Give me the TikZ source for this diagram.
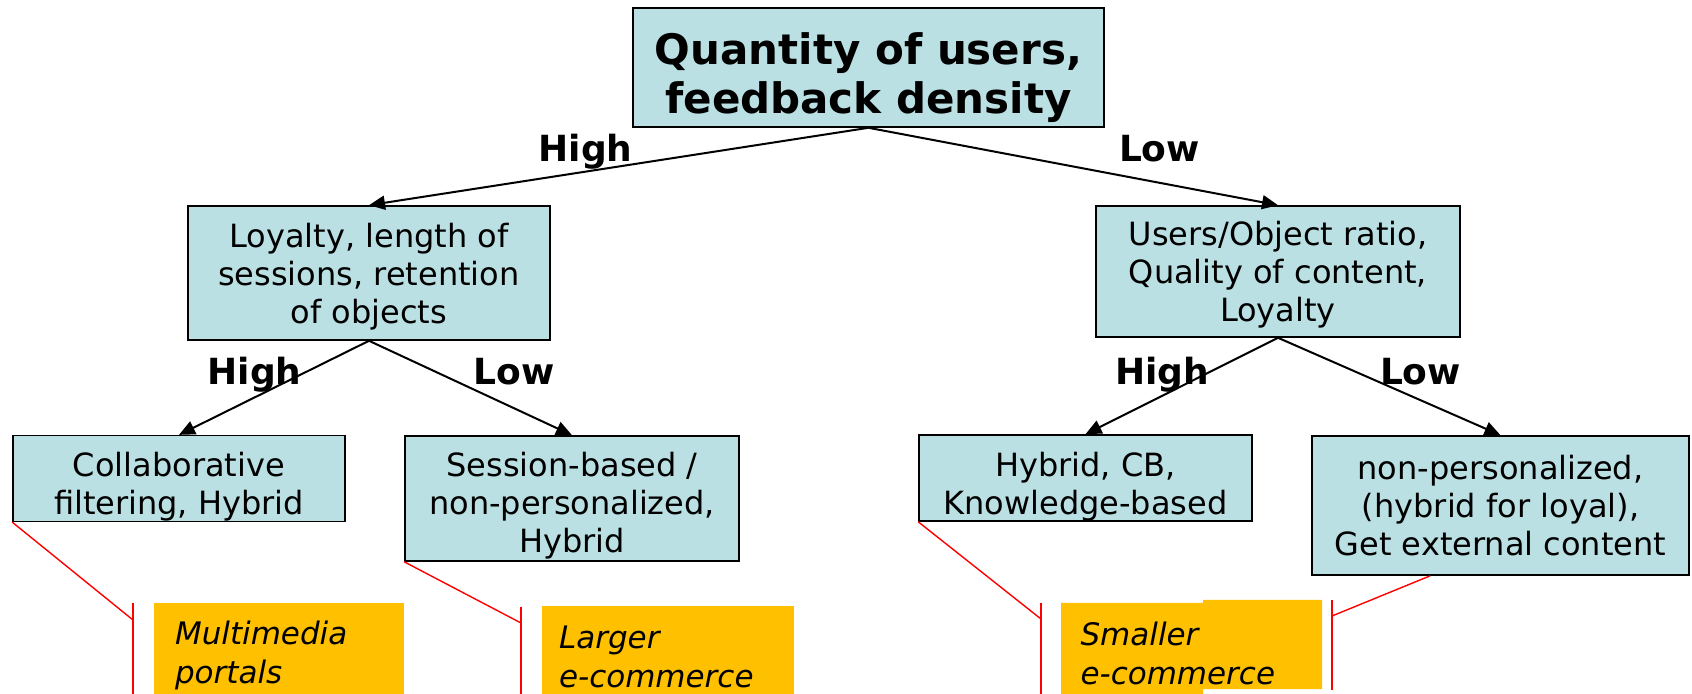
\documentclass[tikz,border=0pt]{standalone}
\usepackage{fontspec}
\setmainfont{DejaVu Sans}
\usetikzlibrary{arrows.meta,calc}
\definecolor{boxfill}{RGB}{186,224,227}
\definecolor{gold}{RGB}{255,192,0}
\newcommand\pushdown[1]{\rule{0pt}{#1}}
\tikzset{
  box/.style={draw=black, line width=0.8pt, fill=boxfill, inner sep=0pt, align=center,
              font=\fontsize{16}{19}\selectfont},
  topbox/.style={box, font=\fontsize{21}{24.3}\selectfont\bfseries},
  lbl/.style={font=\fontsize{18}{20}\selectfont\bfseries, inner sep=0pt, text height=13pt, text depth=0pt},
  arr/.style={line width=1pt, -{Triangle[length=8pt,width=7pt]}},
  note/.style={fill=gold, inner sep=0pt, align=left, font=\fontsize{15.5}{19.5}\selectfont\itshape},
  redline/.style={red, line width=0.7pt},
}
\begin{document}
\begin{tikzpicture}[x=0.5pt,y=-0.5pt]
\useasboundingbox (0,0) rectangle (1692,694);
% decision boxes
\node[topbox, minimum width=235.5pt, minimum height=59.5pt] (q) at (868.5,67.5) {\pushdown{26pt}Quantity of users,\\feedback density};
\node[box, minimum width=181pt, minimum height=67pt] (lm) at (369,273) {\pushdown{15.5pt}Loyalty, length of\\sessions, retention\\of objects};
\node[box, minimum width=182pt, minimum height=65.5pt] (rm) at (1278,271.5) {\pushdown{15.5pt}Users/Object ratio,\\Quality of content,\\Loyalty};
\node[box, minimum width=166pt, minimum height=42.5pt] (cf) at (179,478.5) {\pushdown{20.5pt}Collaborative\\filtering, Hybrid};
\node[box, minimum width=167pt, minimum height=62.5pt] (sb) at (572,498.5) {\pushdown{19.5pt}Session-based /\\non-personalized,\\Hybrid};
\node[box, minimum width=166.5pt, minimum height=43pt] (hy) at (1085.5,478) {\pushdown{20.5pt}Hybrid, CB,\\Knowledge-based};
\node[box, minimum width=188.5pt, minimum height=69.5pt] (np) at (1500.5,505.5) {non-personalized,\\(hybrid for loyal),\\Get external content};
% connectors
\draw[arr] (q.south) -- (lm.north);
\draw[arr] (q.south) -- (rm.north);
\draw[arr] (lm.south) -- (cf.north);
\draw[arr] (lm.south) -- (sb.north);
\draw[arr] (rm.south) -- (hy.north);
\draw[arr] (rm.south) -- (np.north);
% labels
\node[lbl] (h1) at (585.5,149) {High};
\node[lbl] (l1) at (1159.5,149) {Low};
\node[lbl] (h2) at (254.5,372) {High};
\node[lbl] (l2) at (514,372) {Low};
\node[lbl] (h3) at (1162,372) {High};
\node[lbl] (l3) at (1420.5,372) {Low};
% orange notes
\node[note, minimum width=125pt, minimum height=45.5pt, text width=104pt] (mm) at (279,648.5) {\pushdown{18.3pt}Multimedia\\portals};
\node[note, minimum width=126pt, minimum height=44pt, text width=109pt] (lg) at (668,650) {\pushdown{18.3pt}Larger\\e-commerce};
\fill[gold] (1061,603) -- (1203,603) -- (1203,600) -- (1322,600) -- (1322,689) -- (1203,689) -- (1203,694) -- (1061,694) -- cycle;
\node[note, fill=none, minimum width=130.5pt, minimum height=45.5pt, text width=111pt] (sm) at (1191.5,651) {\pushdown{14pt}Smaller\\e-commerce};
% red brackets
\coordinate (b1t) at (133,603); \coordinate (b1m) at (133,620); \coordinate (b1b) at (133,694);
\coordinate (b2t) at (521,607); \coordinate (b2m) at (521,623); \coordinate (b2b) at (521,694);
\coordinate (b3t) at (1041,603); \coordinate (b3m) at (1041,619); \coordinate (b3b) at (1041,694);
\coordinate (b4t) at (1332,600); \coordinate (b4m) at (1332,616); \coordinate (b4b) at (1332,690);
\draw[redline] (cf.south west) -- (b1m);
\draw[redline] (b1t) -- (b1b);
\draw[redline] (sb.south west) -- (b2m);
\draw[redline] (b2t) -- (b2b);
\draw[redline] (hy.south west) -- (b3m);
\draw[redline] (b3t) -- (b3b);
\draw[redline] ($(np.south west)+(119,0)$) -- (b4m);
\draw[redline] (b4t) -- (b4b);
\end{tikzpicture}
\end{document}
